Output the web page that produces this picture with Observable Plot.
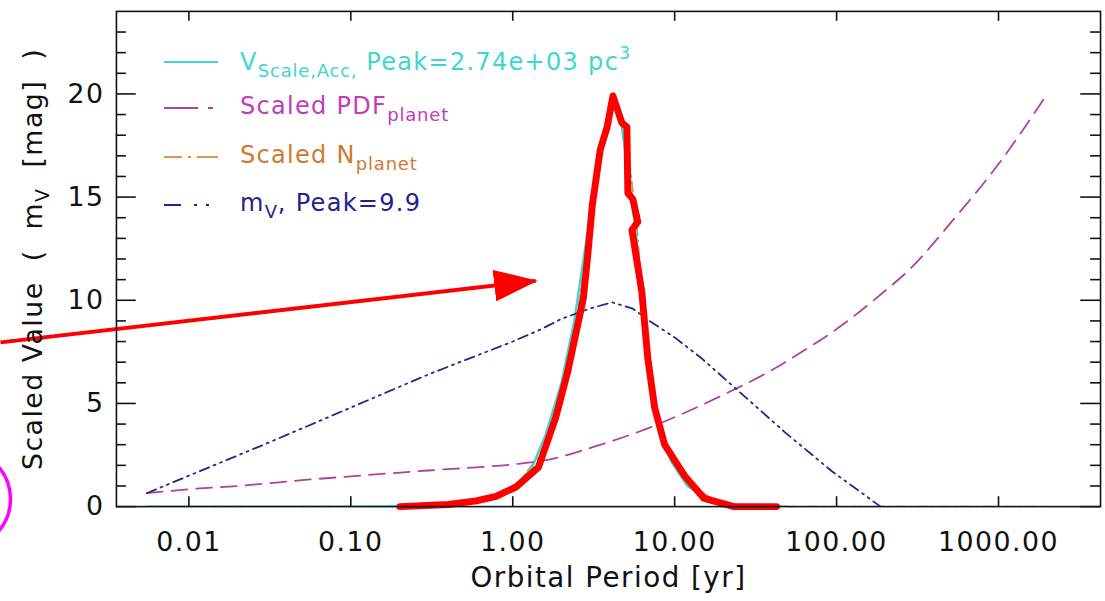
<!DOCTYPE html>
<html><head><meta charset="utf-8">
<script src="https://cdn.jsdelivr.net/npm/d3@7"></script>
<script src="https://cdn.jsdelivr.net/npm/@observablehq/plot@0.6"></script>
<style>
html,body{margin:0;padding:0;overflow:hidden;background:#fff;}
#wrap{position:relative;width:1105px;height:601px;overflow:hidden;}
#legend{position:absolute;left:0;top:0;font-family:"DejaVu Sans";font-size:24px;letter-spacing:1.3px;}
.row{position:absolute;left:164px;display:flex;align-items:center;white-space:nowrap;height:30px;}
.row svg{margin-right:22px;}
.row sub{font-size:18px;vertical-align:-7px;letter-spacing:0.8px;}
.row sup{font-size:17px;vertical-align:11px;}
</style></head><body><div id="wrap"></div>
<script>
// ---- data ----
const xTickVals = [0.01, 0.1, 1, 10, 100, 1000];
const xTickLabels = ["0.01", "0.10", "1.00", "10.00", "100.00", "1000.00"];
const yMajor = [0, 5, 10, 15, 20];
const yMinor = [1,2,3,4,6,7,8,9,11,12,13,14,16,17,18,19,21,22,23];

// Scaled PDF_planet (magenta, long dashes)
const pdfP = [0.0055, 0.01, 0.02, 0.05, 0.1, 0.3, 1, 1.6, 3.3, 6, 10.6, 19.4, 35.7, 59.4, 104, 182, 300, 500, 1000, 2000];
const pdfY = [0.65, 0.84, 1.0, 1.28, 1.47, 1.75, 2.05, 2.25, 2.94, 3.63, 4.42, 5.37, 6.41, 7.44, 8.7, 10.2, 11.7, 13.7, 16.6, 20];

// m_V (navy, dash-dot-dot)
const mvP = [0.0055, 0.01, 0.03, 0.1, 0.3, 1, 1.5, 2, 3, 4.1, 5.5, 7, 10, 14.6, 24, 48, 94, 187];
const mvY = [0.65, 1.5, 3.05, 4.8, 6.4, 8.0, 8.6, 9.1, 9.6, 9.9, 9.6, 9.0, 8.2, 7.2, 5.7, 3.6, 1.7, 0];

// V_Scale,Acc (cyan, solid)
const vP = [0.0055, 0.1, 0.2, 0.4, 0.6, 0.8, 1.0, 1.3, 1.6, 2.0, 2.4, 2.8, 3.2, 3.6, 4.16, 4.7, 5.1, 5.5, 5.9, 6.3, 7.0, 8.0, 9.5, 12, 16, 22, 30, 50];
const vY = [0, 0, 0.02, 0.1, 0.2, 0.45, 0.9, 1.8, 3.5, 6.0, 9.0, 12.5, 15.5, 18.0, 20, 18.5, 16.5, 14.5, 12.5, 9.5, 6.0, 3.8, 2.2, 1.0, 0.35, 0.1, 0.02, 0];

// Scaled N_planet (orange, dash-dot)
const nP = [0.0055, 0.2, 0.5, 1.0, 1.5, 2.0, 2.5, 3.0, 3.5, 4.16, 4.8, 5.3, 5.8, 6.3, 6.9, 7.6, 8.5, 10, 13, 18, 25, 40, 2000];
const nY = [0, 0, 0.1, 0.8, 2.6, 5.8, 9.5, 13.5, 17.2, 20, 18.8, 16.5, 13.8, 10.5, 7.2, 4.8, 3.2, 2.0, 0.9, 0.3, 0.08, 0, 0];

// hand-drawn red overlay
const redP = [0.201, 0.40, 0.596, 0.789, 1.046, 1.44, 1.84, 2.18, 2.73, 2.89, 3.10, 3.47, 3.83, 4.16, 4.72, 5.07, 5.14, 5.52, 5.92, 5.45, 6.27, 6.82, 7.52, 8.67, 11.5, 15.2, 23.2, 42.6];
const redY = [0, 0.1, 0.28, 0.5, 0.95, 1.9, 4.3, 6.5, 10.1, 12.0, 14.6, 17.3, 18.4, 19.9, 18.6, 18.4, 15.2, 14.9, 13.8, 13.4, 10.4, 7.2, 4.8, 3.0, 1.5, 0.4, 0, 0];
const arrowFrom = [0.000687, 7.96];
const arrowTo = [1.387, 10.94];
const parenAt = [0.000391, 0.37];

const xTitle = "Orbital Period [yr]";
const yTitleParts = ["Scaled Value  (  m", "V", "  [mag]  )"];

// ---- layout ----
const W = 1115, H = 601, mL = 117, mR = 5, mT = 11, mB = 90.3;
const fw = W - mL - mR, fh = H - mT - mB;
const col = {v: "#3ed8d0", pdf: "#b2409e", n: "#d49a52", mv: "#262689", red: "#ff0000"};

const ser = (P, Y) => P.map((p, i) => ({p, y: Y[i]}));

const plot = Plot.plot({
  width: W, height: H,
  marginLeft: mL, marginRight: mR, marginTop: mT, marginBottom: mB,
  x: {type: "log", domain: [0.00357, 4266]},
  y: {domain: [0, 24]},
  style: {fontFamily: "DejaVu Sans", color: "#111", background: "#fff"},
  marks: [
    Plot.line(ser(nP, nY), {x: "p", y: "y", stroke: col.n, strokeWidth: 1.8, strokeDasharray: "10,5,2,5", clip: true}),
    Plot.line(ser(vP, vY), {x: "p", y: "y", stroke: col.v, strokeWidth: 2.5, clip: true}),
    Plot.line(ser(pdfP, pdfY), {x: "p", y: "y", stroke: col.pdf, strokeWidth: 1.8, strokeDasharray: "16,9", curve: "monotone-x", clip: true}),
    Plot.line(ser(mvP, mvY), {x: "p", y: "y", stroke: col.mv, strokeWidth: 1.8, strokeDasharray: "10,5,2,5,2,5", clip: true}),
    Plot.line(ser(redP, redY), {x: "p", y: "y", stroke: col.red, strokeWidth: 7, strokeLinejoin: "round", strokeLinecap: "round"}),
    Plot.link([{a: arrowFrom, b: arrowTo}], {x1: d => d.a[0], y1: d => d.a[1], x2: d => d.b[0], y2: d => d.b[1], stroke: col.red, strokeWidth: 4}),
    Plot.dot([parenAt], {x: d => d[0], y: d => d[1], r: 50, stroke: "#ff00ff", strokeWidth: 3.5, fill: "none"}),
    Plot.frame({strokeWidth: 1.6, stroke: "#111"}),
    Plot.ruleX(xTickVals, {insetTop: fh - 10, strokeWidth: 1.6, stroke: "#111"}),
    Plot.ruleX(xTickVals, {insetBottom: fh - 10, strokeWidth: 1.6, stroke: "#111"}),
    Plot.ruleY(yMajor, {insetRight: fw - 20, strokeWidth: 1.6, stroke: "#111"}),
    Plot.ruleY(yMinor, {insetRight: fw - 10, strokeWidth: 1.6, stroke: "#111"}),
    Plot.ruleY(yMajor, {insetLeft: fw - 20, strokeWidth: 1.6, stroke: "#111"}),
    Plot.ruleY(yMinor, {insetLeft: fw - 10, strokeWidth: 1.6, stroke: "#111"}),
    Plot.axisX({ticks: xTickVals, tickSize: 0, tickPadding: 26, fontSize: 27, label: null,
      tickFormat: d => xTickLabels[xTickVals.indexOf(d)]}),
    Plot.axisY({ticks: yMajor, tickSize: 0, tickPadding: 12, fontSize: 27, label: null}),
    Plot.text([xTitle], {frameAnchor: "bottom", dy: 72, lineAnchor: "middle", fontSize: 28, text: d => d}),
    Plot.text(["ytitle"], {frameAnchor: "left", dx: -84, rotate: -90, textAnchor: "middle", lineAnchor: "middle", fontSize: 27, text: d => yTitleParts.join("")})
  ]
});

const svg = d3.select(plot);
svg.style("letter-spacing", "1.5px");
// arrowhead marker
const defs = svg.insert("defs", ":first-child");
defs.append("marker").attr("id", "redhead").attr("markerUnits", "userSpaceOnUse")
  .attr("viewBox", "0 0 44 32").attr("refX", 42).attr("refY", 16)
  .attr("markerWidth", 44).attr("markerHeight", 32).attr("orient", "auto")
  .append("path").attr("d", "M0,0L44,16L0,32Z").attr("fill", col.red);
svg.selectAll('g[aria-label="link"] path').attr("marker-end", "url(#redhead)");
// y title with subscript
svg.selectAll("text").filter(function() { return this.textContent === yTitleParts.join(""); })
  .each(function() {
    const t = d3.select(this); t.text(null);
    t.append("tspan").text(yTitleParts[0]);
    t.append("tspan").attr("font-size", 19).attr("dy", 7).text(yTitleParts[1]);
    t.append("tspan").attr("dy", -7).text(yTitleParts[2]);
  });

const wrap = document.getElementById("wrap");
wrap.appendChild(plot);

// legend (inside the plot, upper left)
const legendRows = [
  {dash: null, color: col.v, html: 'V<sub>Scale,Acc,</sub> Peak=2.74e+03 pc<sup>3</sup>', tcolor: "#3fd6cf", top: 47},
  {dash: "34,10,5,100", color: col.pdf, html: 'Scaled PDF<sub>planet</sub>', tcolor: "#c23cb8", top: 93},
  {dash: "18,6,3,6,40", color: col.n, html: 'Scaled N<sub>planet</sub>', tcolor: "#cf7a30", top: 142},
  {dash: "17,13,3,9,3,60", color: col.mv, html: 'm<sub>V</sub>, Peak=9.9', tcolor: "#222290", top: 190}
];
const leg = document.createElement("div"); leg.id = "legend";
for (const r of legendRows) {
  const row = document.createElement("div"); row.className = "row"; row.style.top = r.top + "px";
  row.innerHTML = `<svg width="54" height="10"><line x1="0" x2="54" y1="5" y2="5" stroke="${r.color}" stroke-width="2" ${r.dash ? `stroke-dasharray="${r.dash}"` : ""}/></svg><span style="color:${r.tcolor}">${r.html}</span>`;
  leg.appendChild(row);
}
wrap.appendChild(leg);
</script>
</body></html>
